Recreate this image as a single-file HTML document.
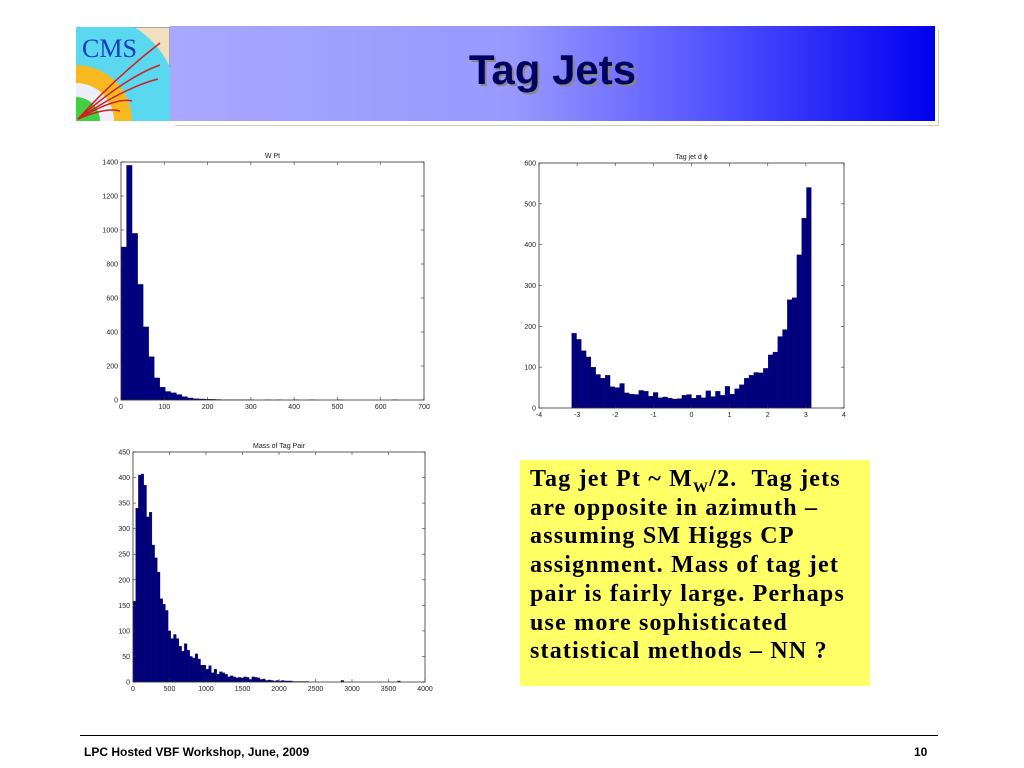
<!DOCTYPE html>
<html><head><meta charset="utf-8"><style>
body{margin:0;width:1024px;height:768px;background:#fff;position:relative;overflow:hidden;font-family:"Liberation Sans",sans-serif}
.abs{position:absolute}
</style></head><body>
<div class="abs" style="left:175px;top:30px;width:763px;height:95px;border-right:1px solid #ccc;border-bottom:1px solid #ccc"></div>
<div class="abs" style="left:170px;top:26px;width:765px;height:95px;background:linear-gradient(90deg,#a8a8ff 0%,#9898ff 45%,#5050ff 72%,#0000f0 100%)"></div>
<div class="abs" style="left:170px;top:46px;width:765px;text-align:center;font-size:42px;font-weight:bold;color:#000060;text-shadow:2px 2px 0 #888">Tag Jets</div>
<svg class="abs" style="left:76px;top:27px" width="94" height="94" viewBox="0 0 94 94">
<rect width="94" height="94" fill="#f2dfc0" stroke="#4a7a9a"/>
<path d="M0 0H58A94 94 0 0 1 94 40V94H0Z" fill="#5ad8f0"/>
<path d="M0 38A56 56 0 0 1 56 94H0Z" fill="#f8b820"/>
<path d="M0 56A38 38 0 0 1 38 94H0Z" fill="#eeeef8"/>
<path d="M0 70A24 24 0 0 1 24 94H0Z" fill="#40d040"/>
<text x="6" y="30" font-family="Liberation Serif,serif" font-size="26" fill="#1a3cc0">CMS</text>
<g stroke="#d02020" stroke-width="1.5" fill="none"><path d="M2 92Q40 50 84 16"/><path d="M2 92Q50 50 84 38"/><path d="M2 92Q50 60 82 52"/><path d="M2 92Q40 70 56 74"/><path d="M2 92Q30 80 44 84"/></g>
</svg>
<svg class="abs" style="left:0;top:0" width="1024" height="768" id="charts"></svg>
<div class="abs" style="left:520px;top:460px;width:350px;height:226px;background:#ffff66;padding:5px 0 0 10px;box-sizing:border-box;font-family:'Liberation Serif',serif;font-weight:bold;font-size:24px;letter-spacing:1.2px;line-height:28.7px;color:#000;white-space:nowrap">Tag jet Pt ~ M<sub style="font-size:15px;line-height:0">W</sub>/2.&nbsp; Tag jets<br>are opposite in azimuth –<br>assuming SM Higgs CP<br>assignment. Mass of tag jet<br>pair is fairly large. Perhaps<br>use more sophisticated<br>statistical methods – NN ?</div>
<div class="abs" style="left:80px;top:735px;width:858px;height:1px;background:#000"></div>
<div class="abs" style="left:84px;top:745px;font-size:12px;font-weight:bold">LPC Hosted VBF Workshop, June, 2009</div>
<div class="abs" style="left:914px;top:745px;font-size:12px;font-weight:bold">10</div>
<script>
const wptValues=[900,1380,980,680,430,255,130,75,50,42,32,20,12,8,6,5,4,3,2,2,1,1,1,1,0,0,1,0,1,0,0,1,0,0,1,0,0,0,0,1,0,0,0,0,0,0,0,0,0,1];
const wptTicksX=[0,100,200,300,400,500,600,700];
const wptTicksY=[0,200,400,600,800,1000,1200,1400];
const dphiValues=[183,168,140,125,100,82,73,80,52,50,60,37,34,33,43,41,29,38,25,27,24,22,23,31,33,24,31,25,42,28,41,31,53,34,47,57,73,80,87,86,97,130,137,175,192,265,270,375,465,540];
const dphiTicksX=[-4,-3,-2,-1,0,1,2,3,4];
const dphiTicksY=[0,100,200,300,400,500,600];
const massValues=[158,340,405,407,385,323,332,268,243,215,163,152,140,100,85,93,85,70,60,75,62,50,47,55,45,33,33,25,32,18,25,15,20,18,15,10,12,10,8,9,8,10,9,5,10,9,8,5,6,3,4,3,2,3,2,3,2,2,2,1,1,1,1,1,1,0,0,0,0,0,0,0,0,0,0,0,0,3,0,0,0,0,0,0,0,0,0,0,0,0,0,0,0,0,0,0,0,0,2,0];
const massTicksX=[0,500,1000,1500,2000,2500,3000,3500,4000];
const massTicksY=[0,50,100,150,200,250,300,350,400,450];
const NS='http://www.w3.org/2000/svg';
const svg=document.getElementById('charts');
function mk(t,a,p){const e=document.createElementNS(NS,t);for(const k in a)e.setAttribute(k,a[k]);(p||svg).appendChild(e);return e;}
function hist(name,title,L,T,R,B,xmin,xmax,ymax,x0,bw,vals,tx,ty){
 const g=mk('g',{});
 
 
 const sx=v=>L+(v-xmin)/(xmax-xmin)*(R-L), sy=v=>B-v/ymax*(B-T);
 const tt=mk('text',{x:(L+R)/2,y:T-4,'font-size':7,'text-anchor':'middle',fill:'#222'},g);tt.textContent=title;
 
 
 vals.forEach((v,i)=>{if(v<=0)return;const x1=sx(x0+i*bw),x2=sx(x0+(i+1)*bw);
  const r=mk('rect',{x:x1,y:sy(v),width:x2-x1,height:sy(0)-sy(v),fill:'#000080',stroke:'#000040','stroke-width':0.3},g);
  
  });
 mk('rect',{x:L,y:T,width:R-L,height:B-T,fill:'none',stroke:'#333','stroke-width':0.8},g);
 tx.forEach(v=>{const x=sx(v);mk('line',{x1:x,x2:x,y1:B,y2:B-3,stroke:'#333','stroke-width':0.6},g);mk('line',{x1:x,x2:x,y1:T,y2:T+3,stroke:'#333','stroke-width':0.6},g);
  const t=mk('text',{x:x,y:B+9,'font-size':7,'text-anchor':'middle',fill:'#222'},g);t.textContent=v;
  
  });
 ty.forEach(v=>{const y=sy(v);mk('line',{x1:L,x2:L+3,y1:y,y2:y,stroke:'#333','stroke-width':0.6},g);mk('line',{x1:R,x2:R-3,y1:y,y2:y,stroke:'#333','stroke-width':0.6},g);
  const t=mk('text',{x:L-3,y:y+2.5,'font-size':7,'text-anchor':'end',fill:'#222'},g);t.textContent=v;
  
  });
}
hist('wpt-histogram','W Pt',121,162,424,400,0,700,1400,0,12.8,wptValues,wptTicksX,wptTicksY);
hist('dphi-histogram','Tag jet d \u03d5',539,163,844,408,-4,4,600,-Math.PI,2*Math.PI/50,dphiValues,dphiTicksX,dphiTicksY);
hist('mass-histogram','Mass of Tag Pair',133,452,425,682,0,4000,450,0,37,massValues,massTicksX,massTicksY);
</script>
</body></html>
